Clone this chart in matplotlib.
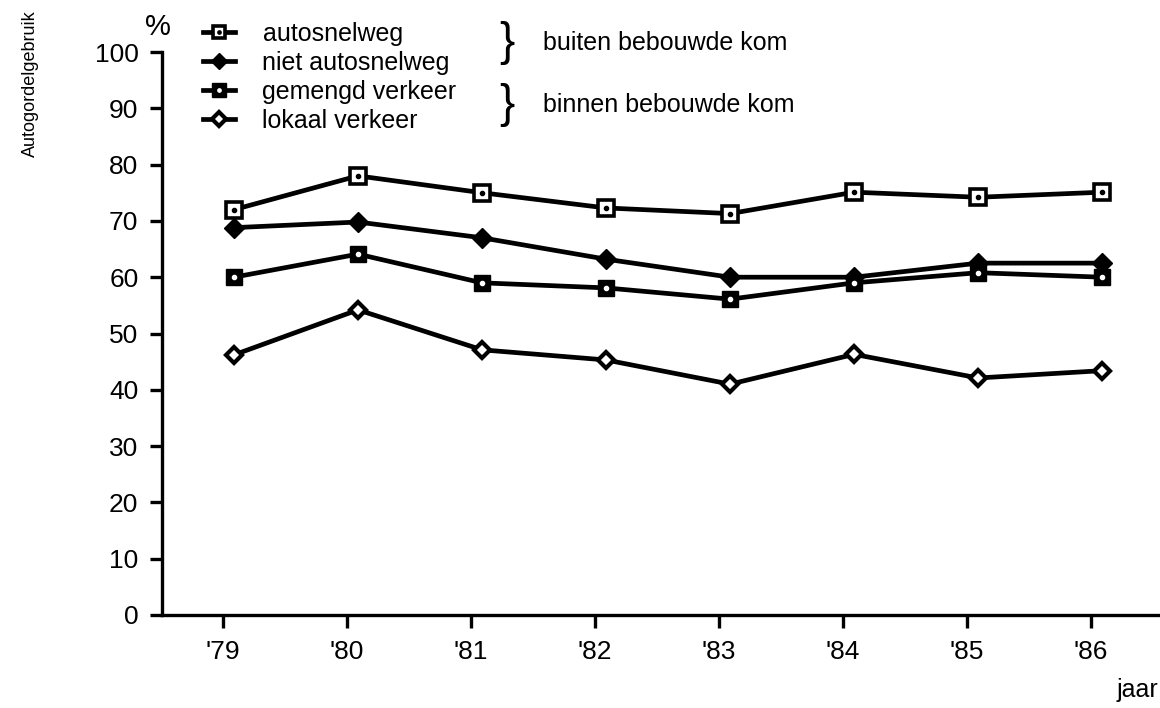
import matplotlib
matplotlib.use('Agg')
from matplotlib import pyplot as plt

plt.rcParams['font.family'] = ['Liberation Sans', 'DejaVu Sans']

# Data
years = [79, 80, 81, 82, 83, 84, 85, 86]
year_labels = ["'79", "'80", "'81", "'82", "'83", "'84", "'85", "'86"]
autosnelweg = [72, 78, 75, 72.3, 71.3, 75.1, 74.2, 75.1]
niet_autosnelweg = [68.8, 69.8, 67, 63.2, 60, 60, 62.5, 62.5]
gemengd_verkeer = [60, 64.1, 59, 58.1, 56.1, 59, 60.8, 60]
lokaal_verkeer = [46.2, 54.2, 47.1, 45.3, 41, 46.3, 42.1, 43.4]

fig = plt.figure(figsize=(11.6, 7.08), dpi=100)
ax = fig.add_axes([162 / 1160, 93 / 708, 996 / 1160, 563 / 708])

lw = 3.4
# autosnelweg: open square with black dot
l1, = ax.plot(years, autosnelweg, color='black', lw=lw, marker='s', ms=11,
              mfc='white', mec='black', mew=2.6, zorder=3)
d1, = ax.plot(years, autosnelweg, ls='none', marker='o', ms=3, color='black', zorder=4)
# niet autosnelweg: filled diamond
l2, = ax.plot(years, niet_autosnelweg, color='black', lw=lw, marker='D', ms=10,
              mfc='black', mec='black', zorder=3)
# gemengd verkeer: filled square with white dot
l3, = ax.plot(years, gemengd_verkeer, color='black', lw=lw, marker='s', ms=12,
              mfc='black', mec='black', zorder=3)
d3, = ax.plot(years, gemengd_verkeer, ls='none', marker='o', ms=3, color='white', zorder=4)
# lokaal verkeer: small open diamond with white centre
l4, = ax.plot(years, lokaal_verkeer, color='black', lw=lw, marker='D', ms=8.5,
              mfc='white', mec='black', mew=3, zorder=3)

ax.set_xlim(78.42, 86.45)
ax.set_ylim(0, 100)
ax.set_xticks([y - 0.09 for y in years])
ax.set_xticklabels(year_labels)
ax.set_yticks(range(0, 101, 10))

for side in ['top', 'right']:
    ax.spines[side].set_visible(False)
for side in ['left', 'bottom']:
    ax.spines[side].set_linewidth(2.4)
ax.tick_params(axis='both', direction='out', length=9, width=2.4, labelsize=19)
ax.tick_params(axis='x', pad=9)
ax.tick_params(axis='y', pad=8)

ax.set_ylabel('Autogordelgebruik', fontsize=13)
ax.yaxis.set_label_coords((30 - 162) / 996, (615 - 10) / 563)
ax.yaxis.label.set_horizontalalignment('right')
ax.yaxis.label.set_verticalalignment('center')

fig.text(1158 / 1160, 1 - 690 / 708, 'jaar', fontsize=18, ha='right', va='center')
fig.text(158 / 1160, 1 - 27 / 708, '%', fontsize=21, ha='center', va='center')

leg = fig.legend([(l1, d1), l2, (l3, d3), l4],
                 ['autosnelweg', 'niet autosnelweg', 'gemengd verkeer', 'lokaal verkeer'],
                 loc='upper left', bbox_to_anchor=(203 / 1160, 1 - 22 / 708),
                 frameon=False, fontsize=18, handlelength=1.28, handletextpad=1.1,
                 labelspacing=0.2, borderpad=0, borderaxespad=0, markerscale=0.8)

fig.text(507 / 1160, 1 - 43 / 708, '}', fontsize=33, ha='center', va='center')
fig.text(507 / 1160, 1 - 105 / 708, '}', fontsize=33, ha='center', va='center')
fig.text(543 / 1160, 1 - 43 / 708, 'buiten bebouwde kom', fontsize=18, ha='left', va='center')
fig.text(543 / 1160, 1 - 105 / 708, 'binnen bebouwde kom', fontsize=18, ha='left', va='center')

fig.savefig('out.png', dpi=100)
